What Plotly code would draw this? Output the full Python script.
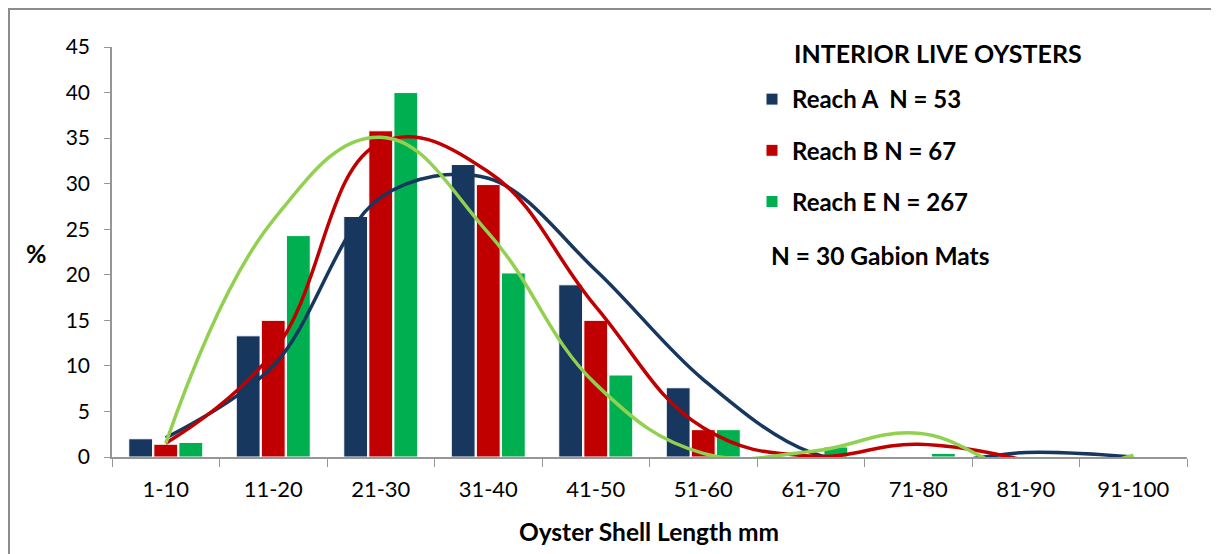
import plotly.graph_objects as go

# Categorías de longitud de concha
categorias = ["1-10", "11-20", "21-30", "31-40", "41-50", "51-60",
              "61-70", "71-80", "81-90", "91-100"]

# Porcentajes por tramo (barras)
reach_a = [2.0, 13.3, 26.4, 32.1, 18.9, 7.6, 0, 0, 0, 0]
reach_b = [1.4, 15.0, 35.8, 29.9, 15.0, 3.0, 0, 0, 0, 0]
reach_e = [1.6, 24.3, 40.0, 20.2, 9.0, 3.0, 1.1, 0.4, 0, 0]

# Curvas suavizadas (tendencia)
curva_a = [2.1, 10.0, 28.5, 30.6, 20.5, 8.5, 0.5, -0.8, 0.5, 0.0]
curva_b = [1.5, 11.5, 34.5, 31.3, 16.5, 3.2, 0.1, 1.4, -0.4, None]
curva_e = [1.5, 26.0, 35.1, 24.6, 8.0, 0.4, 0.6, 2.6, -1.5, 0.2]

azul = "#17375E"
rojo = "#C00000"
verde = "#00B050"
verde_claro = "#92D050"
fuente = "Lato"

# Área de trazado en píxeles de la referencia
X0, X1, Y0, Y1 = 112, 1187, 457, 47
# la página añade 8px de margen al cuerpo
OFF = 8
W, H = 1219 - OFF, 554 - OFF


def px(x):
    return (x - X0) / (X1 - X0)


def py(y):
    return (Y0 - y) / (Y0 - Y1)


fig = go.Figure()

for i, (nombre, valores, color) in enumerate([
    ("Reach A  N = 53", reach_a, azul),
    ("Reach B N = 67", reach_b, rojo),
    ("Reach E N = 267", reach_e, verde),
]):
    fig.add_trace(go.Bar(
        x=categorias, y=valores, name=nombre,
        marker=dict(color=color, line=dict(color="white", width=1)),
        legendgroup=f"g{i}",
    ))

for valores, color, suave in [(curva_a, azul, 1.0), (curva_b, rojo, 1.2),
                              (curva_e, verde_claro, 1.2)]:
    fig.add_trace(go.Scatter(
        x=categorias, y=valores, mode="lines",
        line=dict(color=color, width=3.5, shape="spline", smoothing=suave),
        showlegend=False, connectgaps=False,
    ))

fig.update_layout(
    width=W, height=H,
    margin=dict(l=X0 - OFF, r=W - (X1 - OFF), t=Y1 - OFF, b=H - (Y0 - OFF)),
    paper_bgcolor="white", plot_bgcolor="white",
    barmode="group", bargap=0.30, bargroupgap=0.05,
    font=dict(family=fuente, size=20, color="black"),
    legend=dict(
        x=px(752), y=py(77),
        xanchor="left", yanchor="top",
        font=dict(family=fuente, size=24, color="black", weight="bold"),
        traceorder="grouped", tracegroupgap=17,
        bgcolor="rgba(0,0,0,0)",
    ),
    xaxis=dict(
        type="category",
        showline=True, linecolor="#969696", linewidth=1.5,
        ticks="outside", ticklen=8, tickcolor="#969696",
        tickson="boundaries", ticklabelstandoff=12,
        tickfont=dict(size=22),
    ),
    yaxis=dict(
        range=[0, 45], dtick=5,
        showline=True, linecolor="#969696", linewidth=1.5,
        ticks="outside", ticklen=6, tickcolor="#969696",
        showgrid=False, zeroline=False, ticklabelstandoff=10,
        tickfont=dict(size=21),
    ),
)

# Títulos de ejes
fig.add_annotation(
    text="<b>Oyster Shell Length mm</b>", xref="paper", yref="paper",
    x=px(649), y=py(531), xanchor="center", yanchor="middle",
    showarrow=False, font=dict(size=24.5),
)
fig.add_annotation(
    text="<b>%</b>", xref="paper", yref="paper",
    x=px(36), y=py(253), xanchor="center", yanchor="middle",
    showarrow=False, font=dict(size=25),
)

# Título del recuadro de leyenda y nota
fig.add_annotation(
    text="<b>INTERIOR LIVE OYSTERS</b>", xref="paper", yref="paper",
    x=px(938), y=py(53), xanchor="center", yanchor="middle",
    showarrow=False, font=dict(size=25),
)
fig.add_annotation(
    text="<b>N = 30 Gabion Mats</b>", xref="paper", yref="paper",
    x=px(769), y=py(255), xanchor="left", yanchor="middle",
    showarrow=False, font=dict(size=24.5),
)

# Marco exterior del gráfico
fig.add_shape(
    type="rect", xref="paper", yref="paper",
    x0=px(9), x1=px(1214), y0=py(570), y1=py(9),
    line=dict(color="#8C8C8C", width=2), layer="below",
)

fig.write_html("out.html")
